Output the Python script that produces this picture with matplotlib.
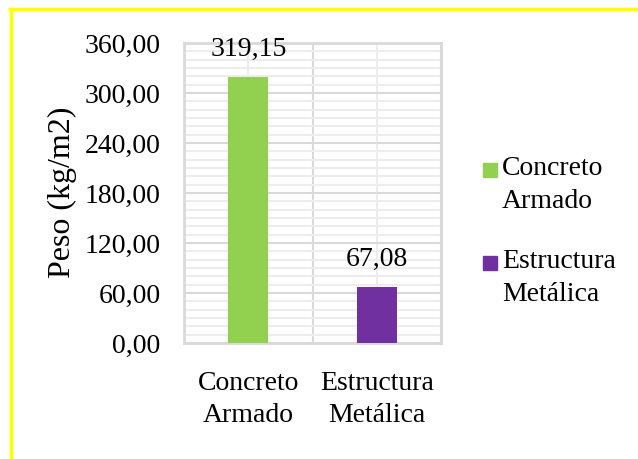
import matplotlib
matplotlib.use("Agg")
import matplotlib.pyplot as plt
from matplotlib.lines import Line2D
from matplotlib.ticker import MultipleLocator

plt.rcParams['font.family'] = ['Liberation Serif', 'DejaVu Serif']

categorias = ["Concreto\nArmado", "Estructura\nMetálica"]
pesos = [319.15, 67.08]
etiquetas = ["319,15", "67,08"]
colores = ["#92D050", "#7030A0"]
ticks_y = [0, 60, 120, 180, 240, 300, 360]
ticks_y_txt = ["0,00", "60,00", "120,00", "180,00", "240,00", "300,00", "360,00"]

W, H = 638, 459
fig = plt.figure(figsize=(W / 100, H / 100), dpi=100)
ax = fig.add_axes([184 / W, 1 - 343 / H, 257 / W, 300 / H])

x = list(range(len(categorias)))
barras = ax.bar(x, pesos, width=0.3125, color=colores, zorder=3)
ax.bar_label(barras, labels=etiquetas, padding=11, fontsize=20)

ax.set_xlim(-0.5, 1.5)
ax.set_ylim(0, 360)
ax.set_yticks(ticks_y)
ax.set_yticklabels(ticks_y_txt)
ax.set_xticks(x)
ax.set_xticklabels(categorias, linespacing=1.4)
ax.yaxis.set_minor_locator(MultipleLocator(10))
ax.set_xticks([-0.5, 0.5, 1.5], minor=True)

# rejilla mayor y menor en gris claro
ax.grid(which='major', axis='y', color='#D9D9D9', linewidth=1.5, zorder=0)
ax.grid(which='minor', axis='y', color='#EDEDED', linewidth=1.5, zorder=0)
ax.grid(which='minor', axis='x', color='#D9D9D9', linewidth=1.5, zorder=0)
ax.grid(which='major', axis='x', color='#EDEDED', linewidth=1.5, zorder=0)
ax.tick_params(which='both', length=0, labelsize=20, colors='black')
ax.tick_params(axis='y', pad=17)
ax.tick_params(axis='x', pad=20)
for s in ax.spines.values():
    s.set_color('#D9D9D9')
    s.set_linewidth(2)

fig.text(62 / W, 1 - 192 / H, "Peso (kg/m2)", rotation=90, ha='center',
         va='center', fontsize=23)

# leyenda: cuadro de color a la altura de la primera linea
for i, (nombre, c) in enumerate(zip(categorias, colores)):
    y_cuadro = 170 + i * 93
    fig.add_artist(Line2D([490 / W], [1 - y_cuadro / H], marker='s',
                          markersize=10.5, color=c, linestyle='none',
                          transform=fig.transFigure))
    fig.text(502 / W, 1 - (y_cuadro - 14) / H, nombre, ha='left', va='top',
             fontsize=20, linespacing=1.4)

# marco amarillo (arriba e izquierda)
fig.add_artist(Line2D([10.5 / W, 10.5 / W], [0, 1 - 8.5 / H],
                      color='#FFFF00', linewidth=2.5, transform=fig.transFigure))
fig.add_artist(Line2D([9.5 / W, 637 / W], [1 - 8.5 / H, 1 - 8.5 / H],
                      color='#FFFF00', linewidth=2.5, transform=fig.transFigure))

fig.savefig("out.png", dpi=100)
